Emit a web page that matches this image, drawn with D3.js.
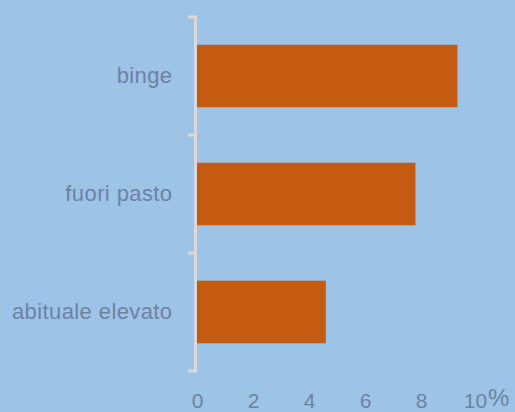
<!DOCTYPE html>
<html>
<head>
<meta charset="utf-8">
<script src="https://cdn.jsdelivr.net/npm/d3@7"></script>
<style>
  html, body { margin: 0; padding: 0; background: #9DC3E6; }
  svg { display: block; }
  text { font-family: "Liberation Sans", Arial, sans-serif; fill: #6E82A2; }
</style>
</head>
<body>
<div id="chart"></div>
<script>
"use strict";
// data
const categories = ["binge", "fuori pasto", "abituale elevato"];
const values = [9.3, 7.8, 4.6];
const xTicks = [0, 2, 4, 6, 8, 10];

const measurements = {
    width: 515,
    height: 412,
    left: 197,
    right: 477,
    top: 17,
    bottom: 371
}

const svg = d3.select("#chart").append("svg")
    .attr("width", measurements.width)
    .attr("height", measurements.height);

svg.append("rect")
    .attr("width", measurements.width)
    .attr("height", measurements.height)
    .attr("fill", "#9DC3E6");

const x = d3.scaleLinear()
    .domain([0, 10])
    .range([measurements.left, measurements.right]);

const y = d3.scaleBand()
    .domain(categories)
    .range([measurements.top, measurements.bottom])
    .paddingInner(0.47)
    .paddingOuter(0.235);

// bars
svg.selectAll(".bar")
    .data(values)
    .enter().append("rect")
    .attr("class", "bar")
    .attr("x", x(0))
    .attr("y", (d, i) => y(categories[i]))
    .attr("width", d => x(d) - x(0))
    .attr("height", y.bandwidth())
    .attr("fill", "#C55A11");

// category axis: line plus ticks on band boundaries
const axisX = x(0) - 1.5;
const boundaries = d3.range(categories.length + 1)
    .map(i => measurements.top + i * y.step());

svg.append("line")
    .attr("x1", axisX).attr("x2", axisX)
    .attr("y1", measurements.top - 1.5).attr("y2", measurements.bottom + 1.5)
    .attr("stroke", "#D9D9D9")
    .attr("stroke-width", 3);

svg.selectAll(".btick")
    .data(boundaries)
    .enter().append("line")
    .attr("class", "btick")
    .attr("x1", axisX - 7.5).attr("x2", axisX)
    .attr("y1", d => d).attr("y2", d => d)
    .attr("stroke", "#D9D9D9")
    .attr("stroke-width", 3);

const yAxis = d3.axisLeft(y).tickSize(0).tickPadding(23);
const gy = svg.append("g")
    .attr("transform", "translate(" + axisX + ",0)")
    .call(yAxis);
gy.select(".domain").remove();
gy.selectAll("text")
    .style("font-size", "22px")
    .style("letter-spacing", "0.4px")
    .attr("fill", "#6E82A2");

// value axis labels
const xAxis = d3.axisBottom(x).tickValues(xTicks).tickSize(0).tickPadding(0);
const gx = svg.append("g")
    .attr("transform", "translate(0,393)")
    .call(xAxis);
gx.select(".domain").remove();
gx.selectAll("text")
    .style("font-size", "21px")
    .attr("fill", "#6E82A2");
gx.selectAll("text").filter(d => d === 10).attr("dx", "-2");

svg.append("text")
    .attr("x", 488)
    .attr("y", 406)
    .style("font-size", "24px")
    .text("%");
</script>
</body>
</html>
